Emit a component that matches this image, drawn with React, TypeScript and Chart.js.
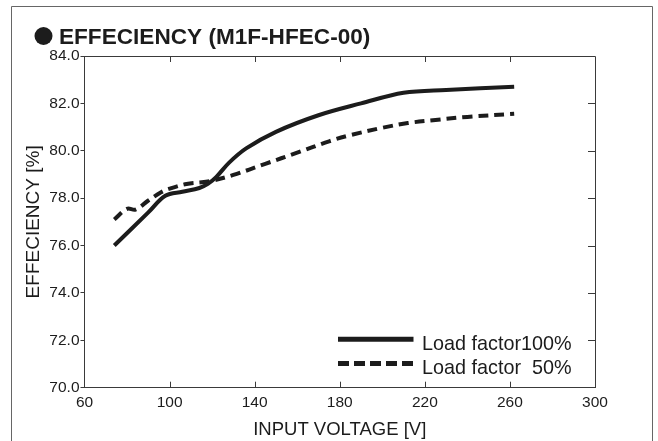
import React, { useEffect, useRef } from "react";
import { Chart, registerables } from "chart.js";

Chart.register(...registerables);

const titleText = "EFFECIENCY (M1F-HFEC-00)";
const xTitle = "INPUT VOLTAGE [V]";
const yTitle = "EFFECIENCY [%]";

const voltage100 = [74, 90, 98, 106, 114, 118, 122, 128, 136, 150, 170, 190, 210, 230, 262];
const eff100 = [76.0, 77.4, 78.1, 78.27, 78.43, 78.6, 78.9, 79.5, 80.1, 80.8, 81.5, 82.0, 82.45, 82.57, 82.7];

const voltage50 = [74, 80, 84, 90, 96, 100, 108, 118, 130, 145, 160, 175, 185, 200, 212, 225, 240, 262];
const eff50 = [77.1, 77.55, 77.52, 77.9, 78.25, 78.4, 78.6, 78.7, 78.98, 79.45, 79.92, 80.4, 80.66, 80.97, 81.17, 81.3, 81.43, 81.56];

const seriesLabels = ["Load factor100%", "Load factor  50%"];

const xTickValues = [60, 100, 140, 180, 220, 260, 300];
const yTickValues = [70, 72, 74, 76, 78, 80, 82, 84];

const FONT = "'Liberation Sans', Arial, Helvetica, sans-serif";
const INK = "#1c1c1c";
const AXIS = "#3a3a3a";

const framePlugin = {
  id: "frame",
  beforeDatasetsDraw(chart: any) {
    const { ctx, chartArea } = chart;
    const { left, right, top, bottom } = chartArea;
    const xs = chart.scales.x;
    const ys = chart.scales.y;
    ctx.save();
    ctx.strokeStyle = AXIS;
    ctx.lineWidth = 1;
    ctx.beginPath();
    ctx.moveTo(left, top + 0.5);
    ctx.lineTo(right + 0.5, top + 0.5);
    ctx.lineTo(right + 0.5, bottom);
    ctx.stroke();
    ctx.beginPath();
    xTickValues.forEach((v) => {
      if (v === 60 || v === 300) return;
      const px = Math.round(xs.getPixelForValue(v)) + 0.5;
      ctx.moveTo(px, bottom);
      ctx.lineTo(px, bottom - 6);
      ctx.moveTo(px, top);
      ctx.lineTo(px, top + 6);
    });
    yTickValues.forEach((v) => {
      if (v === 70 || v === 84) return;
      const py = Math.round(ys.getPixelForValue(v)) + 0.5;
      ctx.moveTo(right, py);
      ctx.lineTo(right - 7, py);
    });
    ctx.stroke();
    ctx.restore();
  },
  afterDraw(chart: any) {
    const { ctx } = chart;
    ctx.save();
    ctx.strokeStyle = "#666";
    ctx.lineWidth = 1;
    ctx.beginPath();
    ctx.moveTo(11.5, 441);
    ctx.lineTo(11.5, 6.5);
    ctx.lineTo(652.5, 6.5);
    ctx.lineTo(652.5, 441);
    ctx.stroke();
    ctx.fillStyle = INK;
    ctx.beginPath();
    ctx.arc(43.5, 36, 9, 0, Math.PI * 2);
    ctx.fill();
    ctx.font = `bold 22.6px ${FONT}`;
    ctx.textBaseline = "alphabetic";
    ctx.textAlign = "left";
    ctx.fillText(titleText, 59, 43.5);
    const ds = chart.data.datasets;
    const rows = [339.3, 363.5];
    ds.forEach((d: any, i: number) => {
      ctx.save();
      ctx.strokeStyle = d.borderColor;
      ctx.lineWidth = 5;
      ctx.setLineDash(d.borderDash && d.borderDash.length ? [11, 5] : []);
      ctx.beginPath();
      ctx.moveTo(338, rows[i]);
      ctx.lineTo(413.5, rows[i]);
      ctx.stroke();
      ctx.restore();
      ctx.fillStyle = INK;
      ctx.font = `19.8px ${FONT}`;
      ctx.textBaseline = "alphabetic";
      ctx.fillText(d.label, 422, rows[i] + 10.2);
    });
    ctx.restore();
  },
};

export default function App() {
  const ref = useRef<HTMLCanvasElement | null>(null);
  useEffect(() => {
    if (!ref.current) return;
    const chart = new Chart(ref.current, {
      type: "line",
      data: {
        datasets: [
          {
            label: seriesLabels[0],
            data: voltage100.map((v, i) => ({ x: v, y: eff100[i] })),
            borderColor: INK,
            borderWidth: 4,
            pointRadius: 0,
            tension: 0.35,
            fill: false,
          },
          {
            label: seriesLabels[1],
            data: voltage50.map((v, i) => ({ x: v, y: eff50[i] })),
            borderColor: INK,
            borderWidth: 4,
            borderDash: [10, 6],
            pointRadius: 0,
            tension: 0.35,
            fill: false,
          },
        ],
      },
      options: {
        animation: false,
        responsive: false,
        devicePixelRatio: 1,
        layout: { padding: { left: 0, right: 63, top: 56, bottom: 0 } },
        plugins: {
          legend: { display: false },
          tooltip: { enabled: false },
          title: { display: false },
        },
        scales: {
          x: {
            type: "linear",
            min: 60,
            max: 300,
            afterBuildTicks: (s: any) => {
              s.ticks = xTickValues.map((v) => ({ value: v }));
            },
            afterFit: (s: any) => {
              s.height = 53.3;
            },
            grid: { display: true, drawOnChartArea: false, drawTicks: false, color: AXIS },
            border: { display: true, color: AXIS, width: 1 },
            ticks: {
              padding: 6,
              color: INK,
              font: { family: FONT, size: 15.5 },
              maxRotation: 0,
              autoSkip: false,
            },
            title: {
              display: true,
              text: xTitle,
              color: INK,
              font: { family: FONT, size: 18.5, lineHeight: 1.2 },
              padding: { top: 0, bottom: 0 },
            },
          },
          y: {
            type: "linear",
            min: 70,
            max: 84,
            afterBuildTicks: (s: any) => {
              s.ticks = yTickValues.map((v) => ({ value: v }));
            },
            afterFit: (s: any) => {
              s.width = 84.5;
            },
            grid: { display: true, drawOnChartArea: false, drawTicks: true, tickLength: 4, color: AXIS },
            border: { display: true, color: AXIS, width: 1 },
            ticks: {
              padding: 1,
              color: INK,
              font: { family: FONT, size: 15.5 },
              callback: (v: any) => Number(v).toFixed(1),
            },
            title: {
              display: true,
              text: yTitle,
              color: INK,
              font: { family: FONT, size: 19, lineHeight: 1.2 },
              padding: { top: 22, bottom: 0 },
            },
          },
        },
      },
      plugins: [framePlugin],
    });
    return () => chart.destroy();
  }, []);
  return (
    <div style={{ position: "absolute", left: 0, top: 0, width: 658, height: 441, background: "#fff" }}>
      <canvas ref={ref} width={658} height={441} style={{ width: 658, height: 441, display: "block" }} />
    </div>
  );
}
